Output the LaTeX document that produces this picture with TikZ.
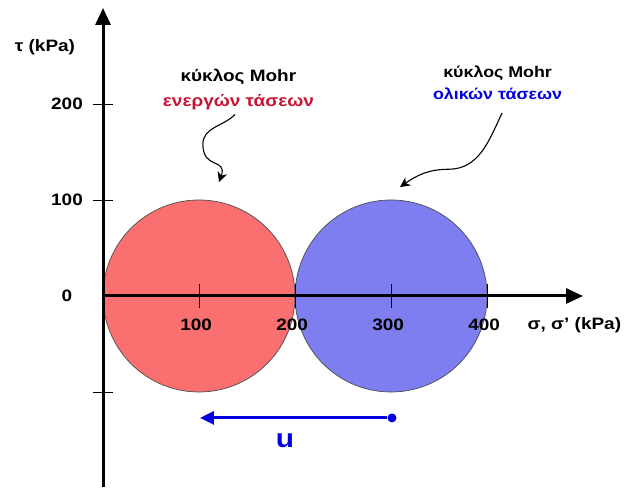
\documentclass[tikz,border=0pt]{standalone}
\usepackage{fontspec}
\setmainfont{Liberation Sans}[FakeStretch=1.15]
\usetikzlibrary{arrows.meta}
\definecolor{effred}{RGB}{250,112,112}
\definecolor{totblue}{RGB}{126,126,240}
\definecolor{effredtxt}{RGB}{200,20,50}
\definecolor{totbluetxt}{RGB}{0,0,225}

\begin{document}
\begin{tikzpicture}[x=0.96pt,y=0.96pt,
lbl/.style={font=\bfseries\fontsize{16.5}{25}\selectfont,inner sep=0pt},
axis/.style={line width=3pt,-{Triangle[length=17pt,width=15pt]}},
tickmark/.style={line width=0.7pt},
mohr/.style={draw=gray!60!black,line width=0.7pt},
note/.style={-{Stealth[length=10pt,width=10pt]},line width=1.1pt}]
\useasboundingbox (-107.3,-202.1) rectangle (551.0,308.3);
% circles
\draw[mohr,fill=effred] (100,0) circle (100);
\draw[mohr,fill=totblue] (300,0) circle (100);
% axes
\coordinate (ybot) at (0,-199); \coordinate (ytop) at (0,300);
\coordinate (xbeg) at (0,0); \coordinate (xend) at (500,0);
\draw[axis] (ybot)--(ytop); \draw[axis] (xbeg)--(xend);
\foreach \v in {200,100,-100} \draw[tickmark] (-10,\v)--(10,\v);
\foreach \v in {100,200,300,400} \draw[tickmark] (\v,-12)--(\v,12);
\foreach \v in {200,100,0} \node[lbl] at (-37.5,\v) {\v};
\foreach \v in {100,200,300,400} \node[lbl] at (\v-3,-30) {\v};
\node[lbl] (tau) at (-60.4,259.4) {τ (kPa)};
\node[lbl] (sig) at (491,-30) {σ, σ’ (kPa)};
% notes
\node[lbl,align=center] (effnote) at (141,215) {κύκλος Mohr\\\textcolor{effredtxt}{ενεργών τάσεων}};
\node[lbl,align=center,font=\bfseries\fontsize{15.5}{22}\selectfont] (totnote) at (411,222) {κύκλος Mohr\\\textcolor{totbluetxt}{ολικών τάσεων}};
\coordinate (effstart) at (137.5,189); \coordinate (effend) at (120.8,118.7);
\coordinate (totstart) at (415.6,190.6); \coordinate (totend) at (309.4,113.5);
\draw[note] (effstart) to[out=225,in=90] (104,158) to[out=-90,in=70,looseness=1.6] (effend);
\draw[note] (totstart) to[out=245,in=0] (360,132) to[out=180,in=35] (totend);
% u shift
\node[circle,fill=totbluetxt,inner sep=0pt,minimum size=9pt] (udot) at (301,-127) {};
\coordinate (utip) at (101,-127);
\draw[line width=3pt,totbluetxt,-{Triangle[length=14pt,width=13pt]}] (udot)--(utip);
\node[lbl,text=totbluetxt,font=\bfseries\fontsize{26}{28}\selectfont] (u) at (189.6,-151) {u};
\end{tikzpicture}
\end{document}
